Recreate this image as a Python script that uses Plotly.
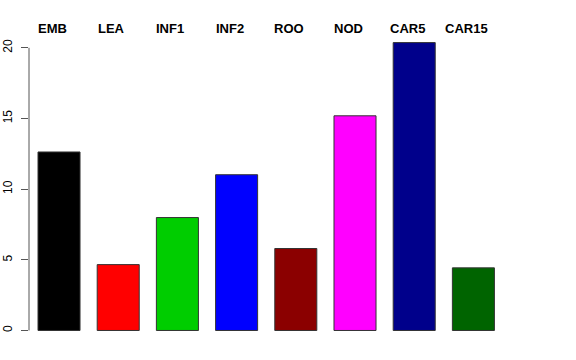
import plotly.graph_objects as go

categories = ["EMB", "LEA", "INF1", "INF2", "ROO", "NOD", "CAR5", "CAR15"]
values = [12.63, 4.66, 7.99, 11.02, 5.8, 15.19, 20.37, 4.43]
colors = ["#000000", "#FF0000", "#00CD00", "#0000FF", "#8B0000", "#FF00FF", "#00008B", "#006400"]
y_ticks = [0, 5, 10, 15, 20]

xpos = list(range(len(categories)))

fig = go.Figure()
fig.add_trace(go.Bar(
    x=xpos, y=values, width=0.71,
    marker=dict(color=colors, line=dict(color="#333333", width=1)),
    hoverinfo="skip",
))

for i, c in enumerate(categories):
    fig.add_annotation(x=i, y=1.007, xref="x", yref="paper", text="<b>%s</b>" % c,
                       showarrow=False, xshift=-7, yanchor="middle", xanchor="center",
                       font=dict(family="Liberation Sans, Arial, sans-serif", size=13, color="#000000"))

fig.add_shape(type="line", xref="paper", yref="y", x0=0, x1=0, y0=0, y1=20,
              line=dict(color="#555555", width=1))

fig.update_layout(
    width=576, height=360,
    margin=dict(l=29, r=73, t=31, b=18, autoexpand=False),
    paper_bgcolor="white", plot_bgcolor="white",
    showlegend=False,
    font=dict(family="Liberation Sans, Arial, sans-serif", size=12, color="#000000"),
    xaxis=dict(range=[-0.507, 7.5], showticklabels=False, showgrid=False, zeroline=False,
               showline=False, ticks="", automargin=False),
    yaxis=dict(range=[-0.815, 21.19], tickvals=y_ticks, ticktext=[str(v) for v in y_ticks],
               tickangle=-90, ticks="outside", ticklen=7, tickcolor="#555555",
               ticklabelstandoff=4,
               showgrid=False, zeroline=False, showline=False, automargin=False,
               tickfont=dict(size=12, color="#000000")),
)

fig.write_html("out.html", config={"displayModeBar": False},
               post_script="document.body.style.margin='0';")
